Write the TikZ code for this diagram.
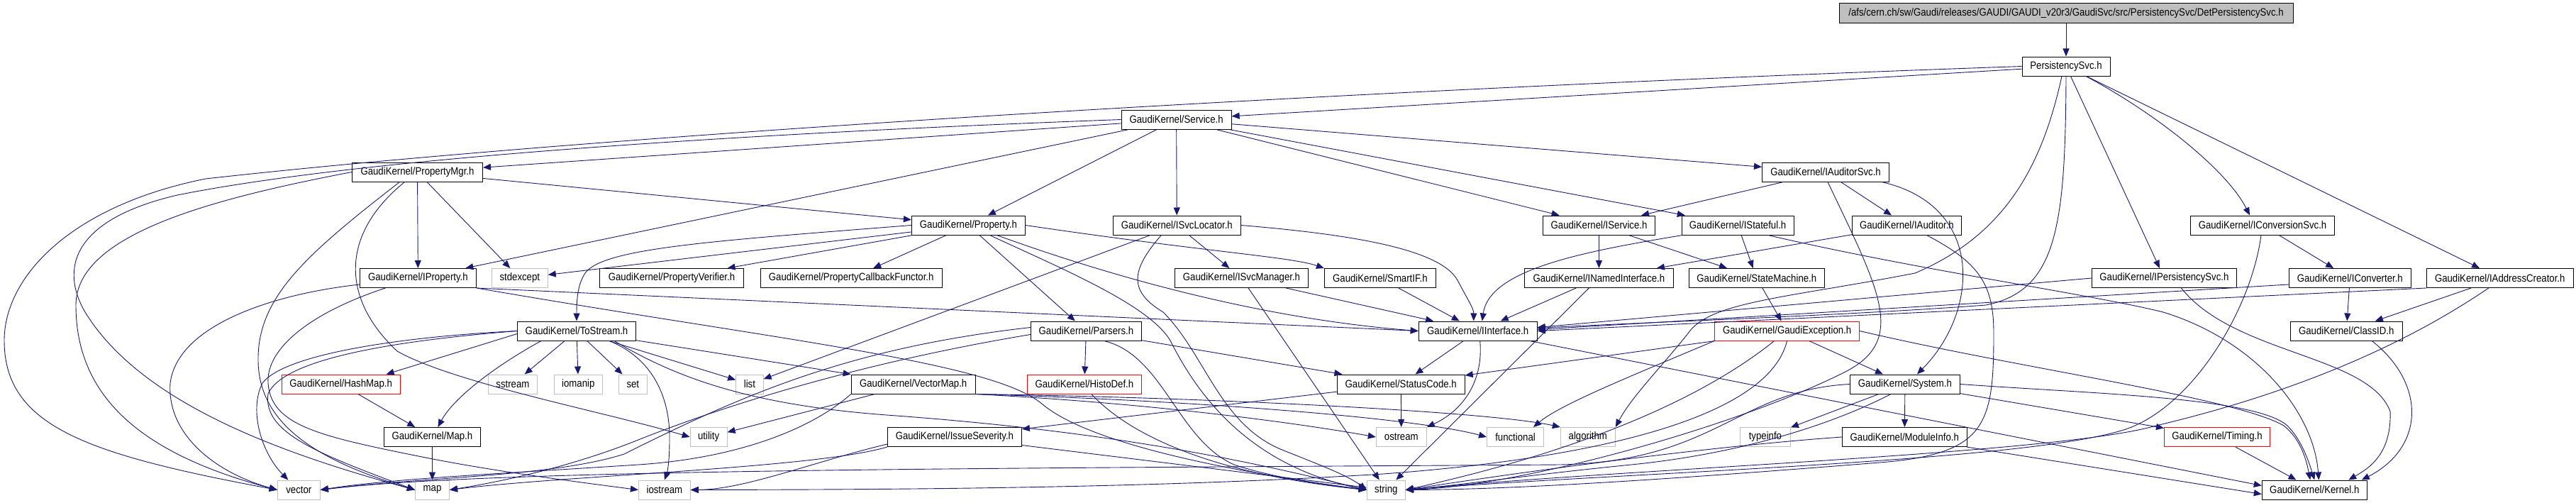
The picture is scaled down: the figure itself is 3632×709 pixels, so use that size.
\documentclass[tikz,border=0pt]{standalone}
\usepackage{fontspec}
\newfontfamily\gkfont[FakeStretch=0.88]{Liberation Sans}
\usetikzlibrary{arrows.meta}
\definecolor{edgeblue}{HTML}{191970}
\definecolor{sysgray}{HTML}{BFBFBF}
\definecolor{rootgray}{HTML}{BFBFBF}
\begin{document}
\begin{tikzpicture}[x=1pt,y=-1pt,
  box/.style={draw=black,text=black,line width=1pt,minimum height=27pt,inner sep=0pt,font=\gkfont\fontsize{15}{15}\selectfont},
  sysbox/.style={box,draw=sysgray},
  redbox/.style={box,draw=red},
  rootbox/.style={box,fill=rootgray,minimum height=28pt},
  e/.style={draw=edgeblue,line width=0.9pt,-{Triangle[length=11pt,width=9pt]}}]
\fill[white] (0,0) rectangle (3632,709);
\useasboundingbox (0,0) rectangle (3632,709);
% ---------- nodes ----------
\node[rootbox,minimum width=640pt] (root) at (2913,19) {/afs/cern.ch/sw/Gaudi/releases/GAUDI/GAUDI\_v20r3/GaudiSvc/src/PersistencySvc/DetPersistencySvc.h};
\node[box,minimum width=124pt] (psvc) at (2913,93.5) {PersistencySvc.h};
\node[box,minimum width=155pt] (service) at (1658.6,168.5) {GaudiKernel/Service.h};
\node[box,minimum width=184pt] (pmgr) at (588.5,242.5) {GaudiKernel/PropertyMgr.h};
\node[box,minimum width=179pt] (iauditorsvc) at (2574,242.5) {GaudiKernel/IAuditorSvc.h};
\node[box,minimum width=160pt] (property) at (1365.4,317.5) {GaudiKernel/Property.h};
\node[box,minimum width=180pt] (isvcloc) at (1659.3,317.5) {GaudiKernel/ISvcLocator.h};
\node[box,minimum width=158pt] (iservice) at (2254.5,317.5) {GaudiKernel/IService.h};
\node[box,minimum width=158pt] (istateful) at (2450,317.5) {GaudiKernel/IStateful.h};
\node[box,minimum width=154pt] (iauditor) at (2688.4,317.5) {GaudiKernel/IAuditor.h};
\node[box,minimum width=203pt] (iconvsvc) at (3190,317.5) {GaudiKernel/IConversionSvc.h};
\node[box,minimum width=164pt] (iproperty) at (589.4,392) {GaudiKernel/IProperty.h};
\node[sysbox,minimum width=79pt] (stdexcept) at (732.8,392) {stdexcept};
\node[box,minimum width=203pt] (pverifier) at (947,392) {GaudiKernel/PropertyVerifier.h};
\node[box,minimum width=256pt] (pcallback) at (1200.2,392) {GaudiKernel/PropertyCallbackFunctor.h};
\node[box,minimum width=188pt] (isvcmgr) at (1750.5,392) {GaudiKernel/ISvcManager.h};
\node[box,minimum width=157pt] (smartif) at (1945.9,392) {GaudiKernel/SmartIF.h};
\node[box,minimum width=210pt] (inamed) at (2254.4,392) {GaudiKernel/INamedInterface.h};
\node[box,minimum width=191pt] (statemachine) at (2476.8,392) {GaudiKernel/StateMachine.h};
\node[box,minimum width=204pt] (ipersist) at (3051.4,392) {GaudiKernel/IPersistencySvc.h};
\node[box,minimum width=172pt] (iconverter) at (3313.3,392) {GaudiKernel/IConverter.h};
\node[box,minimum width=207pt] (iaddr) at (3524.7,392) {GaudiKernel/IAddressCreator.h};
\node[box,minimum width=167pt] (tostream) at (813,466.5) {GaudiKernel/ToStream.h};
\node[box,minimum width=156pt] (parsers) at (1531.4,466.5) {GaudiKernel/Parsers.h};
\node[box,minimum width=167pt] (iinterface) at (2083.7,466.5) {GaudiKernel/IInterface.h};
\node[redbox,minimum width=204pt] (gexc) at (2519.6,466.5) {GaudiKernel/GaudiException.h};
\node[box,minimum width=158pt] (classid) at (3308.2,466.5) {GaudiKernel/ClassID.h};
\node[redbox,minimum width=167pt] (hashmap) at (480.6,541.5) {GaudiKernel/HashMap.h};
\node[sysbox,minimum width=69pt] (sstream) at (722.9,541.5) {sstream};
\node[sysbox,minimum width=68pt] (iomanip) at (815.3,541.5) {iomanip};
\node[sysbox,minimum width=40pt] (set) at (892.3,541.5) {set};
\node[sysbox,minimum width=38.5pt] (list) at (1056.9,541.5) {list};
\node[box,minimum width=175pt] (vectormap) at (1287.7,541.5) {GaudiKernel/VectorMap.h};
\node[redbox,minimum width=161pt] (histodef) at (1528.9,541.5) {GaudiKernel/HistoDef.h};
\node[box,minimum width=180pt] (statuscode) at (1975.2,541.5) {GaudiKernel/StatusCode.h};
\node[box,minimum width=155pt] (system) at (2685.9,541.5) {GaudiKernel/System.h};
\node[box,minimum width=136pt] (gkmap) at (609.4,616) {GaudiKernel/Map.h};
\node[sysbox,minimum width=52pt] (utility) at (999.1,616) {utility};
\node[box,minimum width=189pt] (issue) at (1345.9,616) {GaudiKernel/IssueSeverity.h};
\node[sysbox,minimum width=71pt] (ostream) at (1975.8,616) {ostream};
\node[sysbox,minimum width=80pt] (functional) at (2136.5,616) {functional};
\node[sysbox,minimum width=77pt] (algorithm) at (2238.8,616) {algorithm};
\node[sysbox,minimum width=71pt] (typeinfo) at (2488.9,616) {typeinfo};
\node[box,minimum width=176pt] (moduleinfo) at (2685.3,616) {GaudiKernel/ModuleInfo.h};
\node[redbox,minimum width=149pt] (timing) at (3126,616) {GaudiKernel/Timing.h};
\node[sysbox,minimum width=60pt] (vector) at (421.3,690.5) {vector};
\node[sysbox,minimum width=48pt] (stdmap) at (609.5,690.5) {map};
\node[sysbox,minimum width=73pt] (iostream) at (936.9,690.5) {iostream};
\node[sysbox,minimum width=54pt] (string) at (1954.3,690.5) {string};
\node[box,minimum width=148pt] (kernel) at (3263.3,690.5) {GaudiKernel/Kernel.h};
% ---------- edges ----------
\draw[e] (root) -- (psvc);
% PersistencySvc.h
\draw[e] (psvc) -- (service);
\draw[e] (psvc.west) .. controls (1800,130) and (800,195) .. (290,252) .. controls (100,290) and (6,390) .. (6,480) .. controls (6,600) and (120,640) .. (vector.west);
\draw[e] (psvc) -- (ipersist);
\draw[e] (psvc) -- (iaddr);
\draw[e] ([xshift=28pt]psvc.south) .. controls (3040,160) and (3140,240) .. ([xshift=-18pt]iconvsvc.north);
\draw[e] (psvc.south) .. controls (2912,320) and (2900,410) .. (2800,430) .. controls (2600,445) and (2300,455) .. ([yshift=4pt]iinterface.east);
\draw[e] ([xshift=-6pt]psvc.south) .. controls (2880,230) and (2830,330) .. (2700,385) .. controls (2520,420) and (2410,425) .. (2380,470) .. controls (2340,520) and (2300,560) .. (algorithm.north east);
% Service.h
\draw[e] (service) -- (pmgr);
\draw[e] (service.west) .. controls (1000,190) and (500,225) .. (250,275) .. controls (100,310) and (85,380) .. (120,440) .. controls (200,570) and (400,640) .. (stdmap.west);
\draw[e] (service) -- (iproperty);
\draw[e] (service) -- (property);
\draw[e] (service) -- (isvcloc);
\draw[e] (service) -- (iservice);
\draw[e] (service) -- (istateful);
\draw[e] (service) -- (iauditorsvc);
% PropertyMgr.h
\draw[e] (pmgr.west) .. controls (300,280) and (107,330) .. (107,430) .. controls (107,560) and (200,640) .. (vector.west);
\draw[e] ([xshift=-25pt]pmgr.south) .. controls (430,360) and (362,420) .. (364,510) .. controls (366,600) and (450,650) .. (stdmap.west);
\draw[e] ([xshift=-18pt]pmgr.south) .. controls (480,330) and (480,420) .. (560,495) .. controls (640,540) and (850,580) .. (utility.west);
\draw[e] (pmgr) -- (iproperty);
\draw[e] (pmgr) -- (stdexcept);
\draw[e] (pmgr) -- (property);
% IAuditorSvc.h
\draw[e] (iauditorsvc) -- (iservice);
\draw[e] (iauditorsvc) -- (iauditor);
\draw[e] ([xshift=3pt]iauditorsvc.south) .. controls (2650,410) and (2690,480) .. (2600,525) .. controls (2450,600) and (2150,685) .. (string.east);
\draw[e] ([xshift=79pt]iauditorsvc.south) .. controls (2800,290) and (2790,440) .. ([xshift=17pt]system.north);
% IService, IStateful, IAuditor
\draw[e] (iservice) -- (inamed);
\draw[e] (iservice) -- (statemachine);
\draw[e] (istateful) -- (statemachine);
\draw[e] ([xshift=-78pt]istateful.south) .. controls (2230,355) and (2100,380) .. ([xshift=6pt]iinterface.north);
\draw[e] ([xshift=43pt]istateful.south) .. controls (2700,380) and (2950,415) .. (3050,440) .. controls (3180,480) and (3262,580) .. ([xshift=6pt]kernel.north);
\draw[e] (iauditor) -- (inamed);
\draw[e] ([xshift=28pt]iauditor.south) .. controls (2790,370) and (2811,400) .. (2811,470) .. controls (2811,600) and (2800,640) .. (2650,652) .. controls (2400,672) and (2150,690) .. (string.east);
% INamedInterface, StateMachine
\draw[e] (inamed) -- (iinterface);
\draw[e] (inamed) -- (string);
\draw[e] (statemachine) -- (gexc);
% ISvcLocator
\draw[e] (isvcloc) -- (isvcmgr);
\draw[e] (isvcloc) -- (list);
\draw[e] ([xshift=-22pt]isvcloc.south) .. controls (1595,380) and (1590,410) .. (1640,440) .. controls (1700,500) and (1720,600) .. (1810,635) .. controls (1860,655) and (1900,670) .. (string.west);
\draw[e] (isvcloc.east) .. controls (1900,330) and (2030,350) .. (2055,395) .. controls (2068,420) and (2078,435) .. ([xshift=-6pt]iinterface.north);
% Property.h
\draw[e] (property) -- (stdexcept);
\draw[e] (property.west) .. controls (1000,340) and (850,350) .. (825,385) .. controls (815,400) and (813,420) .. (tostream.north);
\draw[e] (property) -- (pverifier);
\draw[e] (property) -- (pcallback);
\draw[e] (property) -- (parsers);
\draw[e] ([xshift=30pt]property.south) .. controls (1500,380) and (1620,430) .. (1650,480) .. controls (1700,580) and (1780,660) .. (string.west);
\draw[e] ([xshift=40pt]property.south) .. controls (1650,420) and (1850,455) .. (iinterface.west);
\draw[e] (property.east) .. controls (1700,355) and (1820,362) .. (smartif.north west);
% ISvcManager, SmartIF
\draw[e] (isvcmgr) -- (iinterface);
\draw[e] (isvcmgr) -- (string);
\draw[e] (smartif) -- (iinterface);
% IInterface
\draw[e] (iinterface) -- (statuscode);
\draw[e] ([xshift=3pt]iinterface.south) .. controls (2092,540) and (2060,580) .. (ostream.north east);
\draw[e] ([xshift=73pt]iinterface.south) -- ([yshift=6pt]kernel.west);
% StatusCode
\draw[e] (statuscode) -- (ostream);
\draw[e] (statuscode) -- (issue);
% GaudiException
\draw[e] (gexc) -- (statuscode);
\draw[e] (gexc) -- (system);
\draw[e] ([xshift=-18pt]gexc.south) .. controls (2440,530) and (2300,620) .. (string.east);
\draw[e] (gexc.south) .. controls (2490,600) and (2200,650) .. (1950,668) .. controls (1600,690) and (1200,690) .. (iostream.east);
\draw[e] (gexc.south west) .. controls (2300,530) and (2200,570) .. ([xshift=-15pt]functional.north east);
\draw[e] (gexc.east) .. controls (2850,520) and (3150,560) .. (3220,600) .. controls (3245,620) and (3252,650) .. ([xshift=-6pt]kernel.north);
% System
\draw[e] (system) -- (moduleinfo);
\draw[e] (system) -- (typeinfo);
\draw[e] (system) -- (timing);
\draw[e] ([xshift=-20pt]system.south) .. controls (2580,600) and (2450,640) .. (2300,655) .. controls (2150,670) and (2050,685) .. (string.east);
\draw[e] (system.west) .. controls (2450,550) and (2420,650) .. (2200,655) .. controls (1500,660) and (700,660) .. (vector.east);
\draw[e] (system.east) .. controls (2950,555) and (3180,560) .. (3225,600) .. controls (3245,620) and (3255,650) .. (kernel.north);
% ModuleInfo, Timing
\draw[e] (moduleinfo.west) .. controls (2400,630) and (2150,665) .. (string.east);
\draw[e] (moduleinfo) -- ([yshift=-6pt]kernel.west);
\draw[e] (timing) -- (kernel);
% right part
\draw[e] ([xshift=36pt]classid.south) .. controls (3420,540) and (3420,630) .. ([xshift=-8pt]kernel.north east);
\draw[e] ([xshift=24pt]ipersist.south) .. controls (3150,500) and (3340,500) .. (3370,580) .. controls (3372,640) and (3340,660) .. ([xshift=48pt]kernel.north);
\draw[e] (ipersist.west) -- ([yshift=5pt]iinterface.east);
\draw[e] (iconvsvc) -- (iconverter);
\draw[e] ([xshift=-2pt]iconvsvc.south) .. controls (3175,430) and (3100,560) .. (3010,600) .. controls (2900,650) and (2300,665) .. (string.east);
\draw[e] (iconverter) -- (classid);
\draw[e] ([yshift=-9pt]iconverter.west) -- ([yshift=2pt]iinterface.east);
\draw[e] (iaddr) -- (classid);
\draw[e] (iaddr.south west) -- (iinterface.east);
\draw[e] ([xshift=-16pt]iaddr.south) .. controls (3400,480) and (3250,550) .. (3040,600) .. controls (2900,640) and (2300,660) .. (string.east);
% Parsers
\draw[e] (parsers) -- (histodef);
\draw[e] (parsers) -- (statuscode);
\draw[e] ([xshift=25pt]parsers.south) .. controls (1640,500) and (1660,620) .. (1740,655) .. controls (1800,675) and (1880,685) .. (string.west);
\draw[e] ([yshift=-5pt]parsers.west) .. controls (1250,505) and (1050,560) .. (900,620) .. controls (800,660) and (700,680) .. (stdmap.east);
\draw[e] ([yshift=5pt]parsers.west) .. controls (1200,490) and (1050,555) .. (880,640) .. controls (780,672) and (600,672) .. (vector.east);
% VectorMap
\draw[e] (vectormap) -- (utility);
\draw[e] (vectormap.south east) .. controls (1650,570) and (1850,600) .. (ostream.west);
\draw[e] (vectormap.south east) .. controls (1700,565) and (2000,590) .. (functional.west);
\draw[e] (vectormap.south east) .. controls (1700,560) and (2100,580) .. (algorithm.north west);
\draw[e] (vectormap.south west) .. controls (1150,600) and (1050,645) .. (900,655) .. controls (700,668) and (550,675) .. (vector.east);
% ToStream
\draw[e] (tostream) -- (sstream);
\draw[e] (tostream) -- (iomanip);
\draw[e] (tostream) -- (set);
\draw[e] (tostream) -- (list);
\draw[e] (tostream) -- (vectormap);
\draw[e] ([xshift=-50pt]tostream.south) .. controls (700,515) and (640,560) .. ([xshift=8pt]gkmap.north);
\draw[e] ([yshift=-4pt]tostream.west) -- ([xshift=-20pt]hashmap.north east);
\draw[e] (tostream.west) .. controls (560,475) and (400,500) .. (370,540) .. controls (350,580) and (370,640) .. ([xshift=-15pt]vector.north);
\draw[e] (tostream.west) .. controls (560,480) and (400,505) .. (378,555) .. controls (370,610) and (450,640) .. (stdmap.west);
\draw[e] ([xshift=46pt]tostream.south) .. controls (920,505) and (945,560) .. (944,620) .. controls (944,650) and (941,665) .. (iostream.north);
\draw[e] ([xshift=53pt]tostream.south) .. controls (950,530) and (1050,570) .. (1250,585) .. controls (1600,610) and (1800,660) .. (string.west);
% IProperty
\draw[e] ([yshift=-9pt]iproperty.west) .. controls (380,415) and (250,460) .. (240,540) .. controls (235,610) and (300,665) .. (vector.west);
\draw[e] ([xshift=-46pt]iproperty.south) .. controls (440,440) and (375,490) .. (378,540) .. controls (382,600) and (450,615) .. (600,645) .. controls (700,665) and (820,680) .. (iostream.west);
\draw[e] (iproperty.south east) -- (iinterface.west);
\draw[e] (iproperty.south east) .. controls (1100,480) and (1400,510) .. (1470,570) .. controls (1530,620) and (1700,660) .. (string.west);
% Map, HashMap
\draw[e] (hashmap) -- (gkmap);
\draw[e] (gkmap) -- (stdmap);
% IssueSeverity, HistoDef
\draw[e] (issue) -- (string);
\draw[e] ([yshift=-10pt]issue.west) .. controls (1150,650) and (1050,690) .. (iostream.east);
\draw[e] (issue.south west) .. controls (1150,660) and (800,670) .. (stdmap.east);
\draw[e] ([xshift=10pt]histodef.south) .. controls (1580,600) and (1680,665) .. (string.west);
\end{tikzpicture}
\end{document}
